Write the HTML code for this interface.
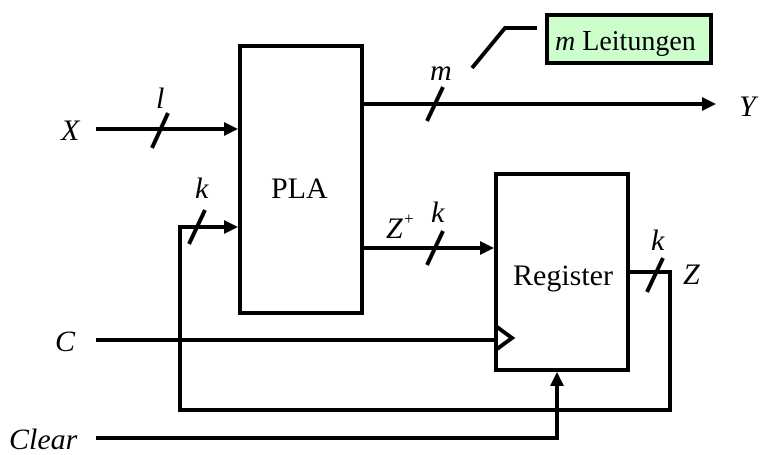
<!DOCTYPE html>
<html><head><meta charset="utf-8"><style>
html,body{margin:0;padding:0;background:#fff;width:768px;height:455px;overflow:hidden}
text{font-family:"Liberation Serif",serif;font-size:30px;fill:#000}
.i{font-style:italic}
</style></head><body>
<svg width="768" height="455" viewBox="0 0 768 455" xmlns="http://www.w3.org/2000/svg">
<g fill="none" stroke="#000" stroke-width="4">
<rect x="240" y="46" width="122" height="267"/>
<rect x="496" y="174" width="132" height="196"/>
<line x1="96" y1="129" x2="228" y2="129"/>
<line x1="362" y1="104" x2="706" y2="104"/>
<line x1="362" y1="248" x2="484" y2="248"/>
<polyline points="228,227 180,227 180,410 670,410 670,272 628,272"/>
<line x1="96" y1="340" x2="496" y2="340"/>
<polyline points="497,327 512,338 497,349"/>
<polyline points="96,438 557,438 557,385"/>
<line x1="152" y1="148" x2="168" y2="113"/>
<line x1="427" y1="121" x2="443" y2="87"/>
<line x1="427" y1="265" x2="443" y2="231"/>
<line x1="189" y1="244" x2="205" y2="210"/>
<line x1="647" y1="292" x2="663" y2="258"/>
<polyline points="472,68 505,28 537,28"/>
</g>
<g fill="#000">
<polygon points="238,129 224,122 224,136"/>
<polygon points="716,104 702,97 702,111"/>
<polygon points="494,248 480,241 480,255"/>
<polygon points="238,227 224,220 224,234"/>
<polygon points="557,372 550,386 564,386"/>
</g>
<rect x="547" y="15" width="164" height="48" fill="#ccffcc" stroke="#000" stroke-width="4"/>
<text x="555" y="50" style="font-size:28px"><tspan class="i">m</tspan> Leitungen</text>
<text x="61" y="140" class="i">X</text>
<text x="156" y="108" class="i">l</text>
<text x="430" y="80" class="i">m</text>
<text x="739" y="116" class="i">Y</text>
<text x="195" y="198" class="i">k</text>
<text x="271" y="198">PLA</text>
<text x="386" y="238" class="i">Z</text><text x="404" y="224" style="font-size:17px">+</text>
<text x="431" y="222" class="i">k</text>
<text x="513" y="285">Register</text>
<text x="651" y="250" class="i">k</text>
<text x="683" y="284" class="i">Z</text>
<text x="55" y="351" class="i">C</text>
<text x="9" y="449" class="i">Clear</text>
</svg>
</body></html>
